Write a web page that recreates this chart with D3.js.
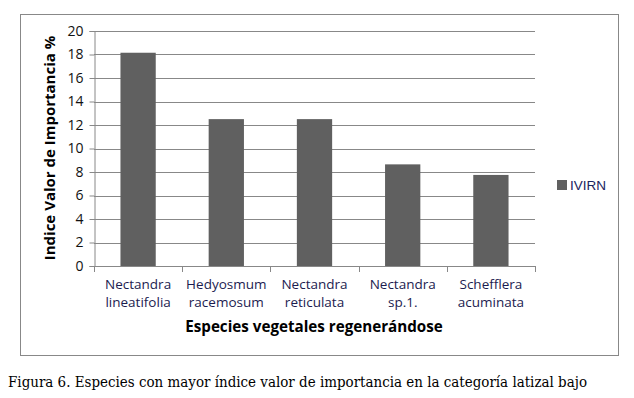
<!DOCTYPE html>
<html>
<head>
<meta charset="utf-8">
<script src="https://cdn.jsdelivr.net/npm/d3@7"></script>
<style>
  body { margin: 0; background: #fff; }
</style>
</head>
<body>
<div id="chart"></div>
<script>
var species = [
    ["Nectandra", "lineatifolia"],
    ["Hedyosmum", "racemosum"],
    ["Nectandra", "reticulata"],
    ["Nectandra", "sp.1."],
    ["Schefflera", "acuminata"]
];
var ivirn = [18.15, 12.5, 12.5, 8.65, 7.75];
var yTicks = [0, 2, 4, 6, 8, 10, 12, 14, 16, 18, 20];
var seriesName = "IVIRN";

var margin = { top: 31, right: 99, bottom: 132, left: 94 };
var width = 634 - margin.left - margin.right;
var height = 398 - margin.top - margin.bottom;

var svg = d3.select("#chart")
    .append("svg")
    .attr("width", 634)
    .attr("height", 398);

// outer chart frame
svg.append("rect")
    .attr("x", 20.5).attr("y", 14.5)
    .attr("width", 598).attr("height", 341)
    .attr("fill", "none")
    .attr("stroke", "#888")
    .attr("stroke-width", 1);

var fig = svg.append("g")
    .attr("transform", "translate(" + margin.left + "," + margin.top + ")");

var x = d3.scaleBand()
    .domain(d3.range(species.length))
    .range([0, width])
    .paddingInner(0.6)
    .paddingOuter(0.3);

var y = d3.scaleLinear()
    .domain([0, 20])
    .range([height, 0]);

// gridlines
fig.selectAll(".grid")
    .data(yTicks.slice(1))
    .enter().append("line")
    .attr("x1", 0).attr("x2", width)
    .attr("y1", d => Math.round(y(d)) + 0.5)
    .attr("y2", d => Math.round(y(d)) + 0.5)
    .attr("stroke", "#888");

fig.selectAll(".bar")
    .data(ivirn)
    .enter().append("rect")
    .attr("x", (d, i) => x(i))
    .attr("y", d => y(d))
    .attr("width", x.bandwidth())
    .attr("height", d => height - y(d))
    .attr("fill", "#606060");

// y axis
var yAxis = fig.append("g")
    .attr("transform", "translate(0.5,0)")
    .call(d3.axisLeft(y).tickValues(yTicks).tickSize(5).tickPadding(6));
yAxis.selectAll("line").attr("stroke", "#888");
yAxis.select(".domain").attr("stroke", "#888");
yAxis.selectAll("text")
    .attr("font-family", "Open Sans, sans-serif")
    .attr("font-size", 14)
    .attr("fill", "#111");

// x axis: ticks at category boundaries
var step = width / species.length;
fig.append("line")
    .attr("x1", 0).attr("x2", width)
    .attr("y1", height + 0.5).attr("y2", height + 0.5)
    .attr("stroke", "#888");
fig.selectAll(".xtick")
    .data(d3.range(species.length + 1))
    .enter().append("line")
    .attr("x1", d => Math.round(d * step) + 0.5)
    .attr("x2", d => Math.round(d * step) + 0.5)
    .attr("y1", height).attr("y2", height + 6)
    .attr("stroke", "#888");

var labels = fig.selectAll(".xlab")
    .data(species)
    .enter().append("text")
    .attr("text-anchor", "middle")
    .attr("font-family", "Open Sans, sans-serif")
    .attr("font-size", 13.5)
    .attr("fill", "#1c1c50")
    .attr("transform", (d, i) => "translate(" + ((i + 0.5) * step) + "," + (height + 23) + ")");
labels.append("tspan").attr("x", 0).attr("y", 0).text(d => d[0]);
labels.append("tspan").attr("x", 0).attr("y", 18).text(d => d[1]);

// axis titles
svg.append("text")
    .attr("text-anchor", "middle")
    .attr("transform", "translate(55,148) rotate(-90)")
    .attr("font-family", "Open Sans, sans-serif")
    .attr("font-weight", "bold")
    .attr("font-size", 15)
    .attr("fill", "#000")
    .text("Indice Valor de Importancia %");

svg.append("text")
    .attr("text-anchor", "middle")
    .attr("x", 314)
    .attr("y", 332)
    .attr("font-family", "Open Sans, sans-serif")
    .attr("font-weight", "bold")
    .attr("font-size", 15.2)
    .attr("fill", "#000")
    .text("Especies vegetales regenerándose");

// legend
var legend = svg.append("g").attr("transform", "translate(557,180)");
legend.append("rect")
    .attr("width", 10).attr("height", 10)
    .attr("fill", "#606060");
legend.append("text")
    .attr("x", 13).attr("y", 10)
    .attr("font-family", "Liberation Sans, Arial, sans-serif")
    .attr("font-size", 13.5)
    .attr("fill", "#1a2460")
    .text(seriesName);

// caption
svg.append("text")
    .attr("x", 8)
    .attr("y", 387)
    .attr("font-family", "DejaVu Serif, serif")
    .attr("font-size", 14)
    .attr("textLength", 579)
    .attr("lengthAdjust", "spacingAndGlyphs")
    .attr("fill", "#000")
    .text("Figura 6. Especies con mayor índice valor de importancia en la categoría latizal bajo");
</script>
</body>
</html>
